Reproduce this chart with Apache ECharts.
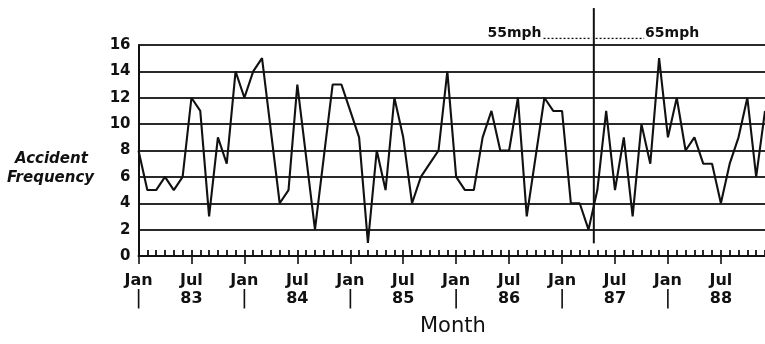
<!DOCTYPE html>
<html>
<head>
<meta charset="utf-8">
<script src="https://cdn.jsdelivr.net/npm/echarts@6/dist/echarts.min.js"></script>
<style>
  html, body { margin: 0; padding: 0; background: #fff; }
  #chart { width: 765px; height: 344px; }
</style>
</head>
<body>
<div id="chart"></div>
<script>
// Monthly accident counts, Jan 1983 - Dec 1988 (null = no plotted vertex that month)
const counts1983 = [8, 5, 5, 6, 5, 6, 12, 11, 3, 9, 7, 14];
const counts1984 = [12, 14, 15, null, 4, 5, 13, null, 2, null, 13, 13];
const counts1985 = [11, 9, 1, 8, 5, 12, 9, 4, 6, 7, 8, 14];
const counts1986 = [6, 5, 5, 9, 11, 8, 8, 12, 3, null, 12, 11];
const counts1987 = [11, 4, 4, 2, 5, 11, 5, 9, 3, 10, 7, 15];
const counts1988 = [9, 12, 8, 9, 7, 7, 4, 7, 9, 12, 6, 11];

const yearLabels = ['83', '84', '85', '86', '87', '88'];
const halfYearNames = ['Jan', 'Jul'];
const speedLabels = ['55mph', '65mph'];

// Month index (0 = Jan 83) where the speed limit changed, and the dotted legend spans
const lawChangeMonth = 51.6;
const lawLineRange = [0.96, 18.8];
const speedBandLevel = 16.5;
const speedBefore = [45.9, 51.35];
const speedAfter = [51.8, 57.3];

const monthly = [].concat(counts1983, counts1984, counts1985, counts1986, counts1987, counts1988);
const lastMonth = monthly.length - 1;
const seriesData = monthly.map((v, i) => [i, v]);

const ink = '#111';
const labelFont = 'DejaVu Sans';

const chart = echarts.init(document.getElementById('chart'), null, { renderer: 'canvas' });

function dottedSpan(name, span) {
  return {
    name: name, type: 'line', clip: false, silent: true, symbol: 'none',
    data: [[span[0], speedBandLevel], [span[1], speedBandLevel]],
    lineStyle: { color: ink, width: 1.3, type: [2, 2] }, z: 6
  };
}

chart.setOption({
  backgroundColor: '#fff',
  animation: false,
  grid: { left: 138.5, right: -3, top: 45, bottom: 88 },
  xAxis: [
    {
      type: 'value', position: 'bottom', min: 0, max: lastMonth, interval: 6,
      axisLine: { show: true, lineStyle: { color: ink, width: 2 } },
      axisTick: { show: true, inside: false, length: 8, lineStyle: { color: ink, width: 1.6 } },
      splitLine: { show: false },
      axisLabel: {
        show: true, margin: 16, showMaxLabel: false,
        color: ink, fontFamily: labelFont, fontSize: 16, fontWeight: 'bold', lineHeight: 18,
        formatter: function (v) {
          const m = Math.round(v);
          if (m % 12 === 0) return halfYearNames[0] + '\n{bar||}';
          return halfYearNames[1] + '\n' + yearLabels[Math.floor(m / 12)];
        },
        rich: { bar: { fontSize: 20, lineHeight: 18, fontWeight: 'normal', color: ink, fontFamily: labelFont } }
      }
    },
    {
      type: 'value', position: 'bottom', min: 0, max: lastMonth, interval: 1,
      axisLine: { show: false },
      axisTick: { show: true, inside: true, length: 6, lineStyle: { color: ink, width: 1.8 } },
      axisLabel: { show: false },
      splitLine: { show: false }
    }
  ],
  yAxis: {
    type: 'value', min: 0, max: 16, interval: 2,
    axisLine: { show: true, lineStyle: { color: ink, width: 2 } },
    axisTick: { show: false },
    axisLabel: { color: ink, fontFamily: labelFont, fontSize: 15, fontWeight: 'bold', margin: 8 },
    splitLine: { show: true, lineStyle: { color: '#2a2a2a', width: 1.9 } }
  },
  series: [
    {
      name: 'Accidents', type: 'line', data: seriesData, connectNulls: true,
      symbol: 'none', lineStyle: { color: ink, width: 2.1 }, z: 5
    },
    {
      name: 'law change', type: 'line', clip: false, symbol: 'none', silent: true,
      data: [[lawChangeMonth, lawLineRange[0]], [lawChangeMonth, lawLineRange[1]]],
      lineStyle: { color: ink, width: 2 }, z: 6
    },
    dottedSpan(speedLabels[0], speedBefore),
    dottedSpan(speedLabels[1], speedAfter)
  ]
});

// Place the speed-limit captions at the ends of the dotted spans
const leftEnd = chart.convertToPixel({ xAxisIndex: 0, yAxisIndex: 0 }, [speedBefore[0], speedBandLevel]);
const rightEnd = chart.convertToPixel({ xAxisIndex: 0, yAxisIndex: 0 }, [speedAfter[1], speedBandLevel]);

chart.setOption({
  graphic: [
    { type: 'text', left: 15, top: 152,
      style: { text: 'Accident', font: 'italic bold 15px "DejaVu Sans"', fill: ink } },
    { type: 'text', left: 7, top: 171,
      style: { text: 'Frequency', font: 'italic bold 15px "DejaVu Sans"', fill: ink } },
    { type: 'text', left: 420, top: 316,
      style: { text: 'Month', font: '21px "DejaVu Sans"', fill: ink } },
    { type: 'text', x: leftEnd[0] - 2, y: leftEnd[1] - 5,
      style: { text: speedLabels[0], font: 'bold 14px "DejaVu Sans"', fill: ink,
               align: 'right', verticalAlign: 'middle' } },
    { type: 'text', x: rightEnd[0] + 1, y: rightEnd[1] - 5,
      style: { text: speedLabels[1], font: 'bold 14px "DejaVu Sans"', fill: ink,
               align: 'left', verticalAlign: 'middle' } }
  ]
});
</script>
</body>
</html>
